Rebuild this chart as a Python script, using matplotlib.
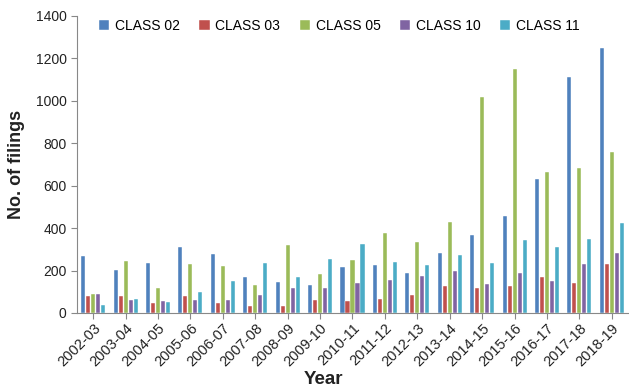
import matplotlib.pyplot as plt
import matplotlib.transforms as mtransforms
import numpy as np

plt.rcParams["font.family"] = ["Liberation Sans", "DejaVu Sans"]

years = ["2002-03", "2003-04", "2004-05", "2005-06", "2006-07", "2007-08",
         "2008-09", "2009-10", "2010-11", "2011-12", "2012-13", "2013-14",
         "2014-15", "2015-16", "2016-17", "2017-18", "2018-19"]

class_02 = [267, 201, 234, 310, 277, 168, 146, 134, 217, 228, 190, 283, 369, 457, 633, 1114, 1248]
class_03 = [82, 82, 47, 82, 46, 31, 31, 61, 58, 68, 85, 129, 116, 126, 170, 141, 231]
class_05 = [88, 247, 119, 229, 223, 134, 322, 182, 248, 379, 333, 427, 1017, 1150, 666, 682, 759]
class_10 = [90, 63, 55, 60, 60, 85, 119, 119, 141, 157, 173, 198, 138, 190, 152, 231, 283]
class_11 = [36, 68, 53, 99, 149, 234, 170, 253, 324, 240, 228, 272, 237, 343, 313, 349, 426]

series = [("CLASS 02", class_02, "#4F81BD"),
          ("CLASS 03", class_03, "#C0504D"),
          ("CLASS 05", class_05, "#9BBB59"),
          ("CLASS 10", class_10, "#8064A2"),
          ("CLASS 11", class_11, "#4BACC6")]

fig = plt.figure(figsize=(6.29, 3.88), dpi=100)
ax = fig.add_axes([0.1224, 0.1933, 0.876, 0.7655])

x = np.arange(len(years))
slot = 0.154
width = 0.125
for i, (name, vals, color) in enumerate(series):
    ax.bar(x + (i - 2) * slot, vals, width, color=color, label=name,
           edgecolor="white", linewidth=0.3)

ax.set_xlim(-0.5, len(years) - 0.5)
ax.set_ylim(0, 1400)
ax.set_yticks(range(0, 1401, 200))
ax.set_xticks(x)
ax.set_xticklabels(years, rotation=45, ha="right", rotation_mode="anchor", fontsize=10.5)
# nudge the rotated labels like the original
offset = mtransforms.ScaledTranslation(0.05, -0.05, fig.dpi_scale_trans)
for lbl in ax.get_xticklabels():
    lbl.set_transform(lbl.get_transform() + offset)
ax.tick_params(axis="y", labelsize=10, length=4, color="#888888", colors="#222222")
ax.tick_params(axis="x", length=4, color="#888888", pad=2, labelcolor="#222222")

for s in ["top", "right"]:
    ax.spines[s].set_visible(False)
for s in ["left", "bottom"]:
    ax.spines[s].set_color("#888888")

ax.set_ylabel("No. of filings", fontsize=13, fontweight="bold", color="#222222")
ax.yaxis.set_label_coords(-0.11, 0.5)
ax.yaxis.label.set_va("center")
ax.set_xlabel("Year", fontsize=13.5, fontweight="bold", color="#222222")
ax.xaxis.set_label_coords(0.448, -0.195)
ax.xaxis.label.set_va("top")

ax.legend(loc="center", bbox_to_anchor=(0.476, 0.966), ncol=5, frameon=False,
          fontsize=10, handlelength=0.75, handleheight=0.75, columnspacing=1.4,
          handletextpad=0.4, borderpad=0)

fig.savefig("out.png", dpi=100)
